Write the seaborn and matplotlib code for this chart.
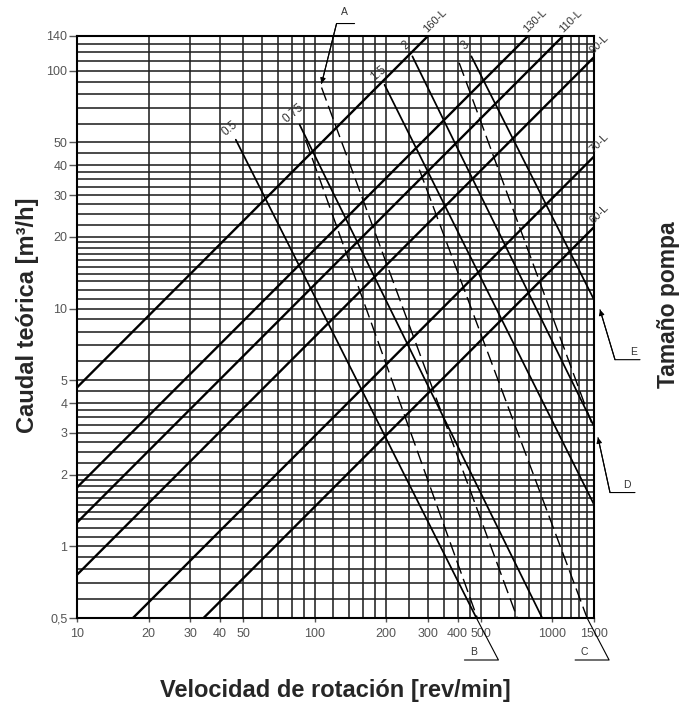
import numpy as np
import pandas as pd
import seaborn as sns
import matplotlib.pyplot as plt
from matplotlib.ticker import FixedLocator, FixedFormatter, NullFormatter

# pump size lines (flow rises with speed), read at both ends
pump_sizes = ['160-L', '130-L', '110-L', '90-L', '70-L', '60-L']
pump_n0 = [10, 10, 10, 10, 17.2, 34.1]
pump_q0 = [4.66, 1.77, 1.26, 0.76, 0.5, 0.5]
pump_n1 = [300, 791, 1111, 1500, 1500, 1500]
pump_q1 = [140, 140, 140, 114, 43.6, 22]

# falling solid lines with their labels
fall_labels = ['0.5', '0.75', '1.5', '2', '3']
fall_n0 = [46.6, 86.5, 197, 258, 457]
fall_q0 = [51.3, 59.3, 87.3, 115, 115]
fall_n1 = [480, 908, 1500, 1500, 1500]
fall_q1 = [0.5, 0.5, 1.5, 3.2, 10.9]

# falling dashed lines
dash_n0 = [107, 91.6, 406, 276]
dash_q0 = [85, 51.3, 108, 38.4]
dash_n1 = [713, 484, 1500, 1403]
dash_q1 = [0.5, 0.5, 3.1, 0.5]

xticks = [10, 20, 30, 40, 50, 100, 200, 300, 400, 500, 1000, 1500]
xtick_labels = ['10', '20', '30', '40', '50', '100', '200', '300', '400', '500', '1000', '1500']
yticks = [0.5, 1, 2, 3, 4, 5, 10, 20, 30, 40, 50, 100, 140]
ytick_labels = ['0,5', '1', '2', '3', '4', '5', '10', '20', '30', '40', '50', '100', '140']

xgrid = ([20, 30, 40, 50, 60, 70, 80, 90, 100, 120, 140, 160, 180, 200,
          250, 300, 350, 400, 450, 500, 600, 700, 800, 900, 1000,
          1100, 1200, 1300, 1400])
ygrid = ([0.6, 0.7, 0.8, 0.9, 1, 1.1, 1.2, 1.3, 1.4, 1.5, 1.6, 1.7, 1.8, 1.9,
          2, 2.25, 2.5, 2.75, 3, 3.25, 3.5, 3.75, 4, 4.5, 5, 6, 7, 8, 9,
          10, 11, 12, 13, 14, 15, 16, 17, 18, 19, 20, 22.5, 25, 27.5, 30,
          32.5, 35, 37.5, 40, 45, 50, 60, 70, 80, 90, 100, 110, 120, 130])


def to_long(names, n0, q0, n1, q1):
    rows = []
    for nm, a, b, c, d in zip(names, n0, q0, n1, q1):
        rows.append((nm, a, b))
        rows.append((nm, c, d))
    return pd.DataFrame(rows, columns=['line', 'n', 'Q'])


sns.set_style('white')
plt.rcParams['font.family'] = ['Liberation Sans', 'DejaVu Sans']

fig = plt.figure(figsize=(6.87, 7.15), dpi=100)
ax = fig.add_axes([77 / 687, 97 / 715, 517 / 687, 582 / 715])
ax.set_xscale('log')
ax.set_yscale('log')
ax.set_xlim(10, 1500)
ax.set_ylim(0.5, 140)

for v in xgrid:
    ax.axvline(v, color='#222222', lw=1.15, zorder=1)
for v in ygrid:
    ax.axhline(v, color='#222222', lw=1.15, zorder=1)

pumps = to_long(pump_sizes, pump_n0, pump_q0, pump_n1, pump_q1)
sns.lineplot(data=pumps, x='n', y='Q', units='line', estimator=None, sort=False,
             color='black', lw=1.7, ax=ax, zorder=3)
falls = to_long(fall_labels, fall_n0, fall_q0, fall_n1, fall_q1)
sns.lineplot(data=falls, x='n', y='Q', units='line', estimator=None, sort=False,
             color='black', lw=1.25, ax=ax, zorder=3)
dashed = to_long(['a', 'b', 'c', 'd'], dash_n0, dash_q0, dash_n1, dash_q1)
sns.lineplot(data=dashed, x='n', y='Q', units='line', estimator=None, sort=False,
             color='black', lw=1.0, linestyle=(0, (10, 4)), ax=ax, zorder=3)
ax.set_xlabel('')
ax.set_ylabel('')

for s in ax.spines.values():
    s.set_color('black')
    s.set_linewidth(1.5)

ax.xaxis.set_major_locator(FixedLocator(xticks))
ax.xaxis.set_major_formatter(FixedFormatter(xtick_labels))
ax.xaxis.set_minor_formatter(NullFormatter())
ax.yaxis.set_major_locator(FixedLocator(yticks))
ax.yaxis.set_major_formatter(FixedFormatter(ytick_labels))
ax.yaxis.set_minor_formatter(NullFormatter())
ax.tick_params(which='minor', length=0)
ax.tick_params(axis='y', which='major', length=6, width=1, color='#555', pad=1,
               labelsize=9, labelcolor='#555', left=True)
ax.tick_params(axis='x', which='major', length=3, width=1, color='#555', pad=4,
               labelsize=9, labelcolor='#555', bottom=True)

# labels on the pump size lines
for lab, n, q in zip(pump_sizes, pump_n1, pump_q1):
    ax.annotate(lab, (n, q), xytext=(1, 2), textcoords='offset pixels',
                rotation=45, rotation_mode='anchor', ha='left', va='bottom',
                fontsize=8, color='#333', annotation_clip=False)

# labels on the falling lines
for lab, n, q in zip(fall_labels, fall_n0, fall_q0):
    ax.annotate(lab, (n, q), xytext=(-6, 11), textcoords='offset pixels',
                rotation=40, rotation_mode='anchor', ha='center', va='center',
                fontsize=8.5, color='#333', annotation_clip=False)


def px(n, q):
    return ax.transData.transform((n, q))


def back(x, y):
    return ax.transData.inverted().transform((x, y))


def leader(anchor, pts, label, lab_off, arrow):
    x0, y0 = px(*anchor)
    verts = [back(x0 + dx, y0 + dy) for dx, dy in pts]
    xs = [v[0] for v in verts]
    ys = [v[1] for v in verts]
    ax.plot(xs, ys, color='black', lw=0.8, clip_on=False, zorder=4)
    if arrow:
        ax.annotate('', xy=verts[0], xytext=verts[1],
                    arrowprops=dict(arrowstyle='-|>', color='black', lw=0.8,
                                    mutation_scale=8, shrinkA=0, shrinkB=0),
                    annotation_clip=False)
    lx, ly = back(x0 + lab_off[0], y0 + lab_off[1])
    ax.text(lx, ly, label, ha='center', va='center', fontsize=7.5,
            color='#333', clip_on=False)


leader((dash_n0[0], dash_q0[0]), [(0, 4), (15, 64), (33, 64)], 'A', (23, 76), True)
leader((fall_n1[0], fall_q1[0]), [(0, 0), (22, -42), (-12, -42)], 'B', (-3, -34), False)
leader((dash_n1[3], dash_q1[3]), [(0, 0), (22, -42), (-12, -42)], 'C', (-3, -34), False)
leader((dash_n1[2], dash_q1[2]), [(4, -8), (16, -63), (41, -63)], 'D', (33, -55), True)
leader((fall_n1[4], fall_q1[4]), [(6, -10), (21, -60), (46, -60)], 'E', (40, -52), True)

fig.text(28 / 687, 1 - 315 / 715, 'Caudal teórica [m³/h]', rotation=90,
         ha='center', va='center', fontsize=17, fontweight='bold')
fig.text(335 / 687, 1 - 690 / 715, 'Velocidad de rotación [rev/min]',
         ha='center', va='center', fontsize=17, fontweight='bold')
fig.text(668 / 687, 1 - 305 / 715, 'Tamaño pompa', rotation=90,
         ha='center', va='center', fontsize=16.5, fontweight='bold')

fig.savefig('out.png', dpi=100)
